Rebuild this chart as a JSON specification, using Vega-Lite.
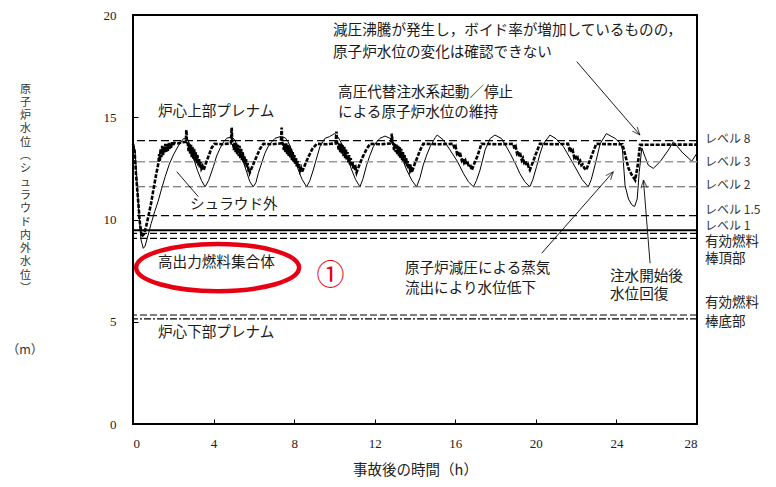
{
  "$schema": "https://vega.github.io/schema/vega-lite/v6.json",
  "width": 564,
  "height": 409,
  "autosize": {"type": "none"},
  "padding": {"left": 133, "top": 15, "right": 79, "bottom": 63},
  "background": "white",
  "config": {"view": {"stroke": "black", "strokeWidth": 2}, "font": "Noto Sans CJK JP"},
  "datasets": {
    "outside": [
      {"t":0,"v":13.7},{"t":0.1,"v":13.4},{"t":0.2,"v":11.8},{"t":0.3,"v":10.2},{"t":0.4,"v":9.0},{"t":0.51,"v":8.59},{"t":0.6,"v":8.7},{"t":0.74,"v":9.2},{"t":0.9,"v":9.8},{"t":1.08,"v":10.4},{"t":1.25,"v":10.9},{"t":1.42,"v":11.5},{"t":1.6,"v":12.1},{"t":1.8,"v":12.7},{"t":2.0,"v":13.15},{"t":2.25,"v":13.6},{"t":2.5,"v":13.95},{"t":2.7,"v":13.95},{"t":2.85,"v":13.6},{"t":3.0,"v":13.0},{"t":3.2,"v":12.4},{"t":3.4,"v":11.9},{"t":3.58,"v":11.6},{"t":3.75,"v":11.9},{"t":3.99,"v":12.58},{"t":4.15,"v":13.1},{"t":4.32,"v":13.48},{"t":4.5,"v":13.8},{"t":4.65,"v":13.97},{"t":4.9,"v":14.05},{"t":5.05,"v":13.9},{"t":5.31,"v":13.3},{"t":5.5,"v":12.75},{"t":5.65,"v":12.3},{"t":5.8,"v":11.85},{"t":5.97,"v":11.6},{"t":6.1,"v":11.8},{"t":6.22,"v":12.26},{"t":6.4,"v":12.8},{"t":6.55,"v":13.24},{"t":6.7,"v":13.55},{"t":6.89,"v":13.8},{"t":7.05,"v":13.97},{"t":7.3,"v":14.05},{"t":7.55,"v":14.0},{"t":7.7,"v":13.8},{"t":7.88,"v":13.4},{"t":8.05,"v":12.9},{"t":8.21,"v":12.42},{"t":8.4,"v":11.95},{"t":8.62,"v":11.6},{"t":8.78,"v":11.9},{"t":8.95,"v":12.42},{"t":9.1,"v":12.95},{"t":9.28,"v":13.56},{"t":9.53,"v":13.97},{"t":9.75,"v":14.05},{"t":10.0,"v":14.2},{"t":10.2,"v":14.0},{"t":10.44,"v":13.56},{"t":10.65,"v":13.0},{"t":10.86,"v":12.42},{"t":11.05,"v":11.95},{"t":11.27,"v":11.6},{"t":11.42,"v":12.0},{"t":11.6,"v":12.67},{"t":11.75,"v":13.1},{"t":11.93,"v":13.56},{"t":12.1,"v":13.8},{"t":12.26,"v":13.97},{"t":12.51,"v":14.08},{"t":12.8,"v":13.95},{"t":13.09,"v":13.56},{"t":13.35,"v":13.0},{"t":13.59,"v":12.42},{"t":13.85,"v":11.9},{"t":14.08,"v":11.6},{"t":14.25,"v":12.05},{"t":14.41,"v":12.67},{"t":14.58,"v":13.15},{"t":14.75,"v":13.56},{"t":15.0,"v":14.0},{"t":15.1,"v":14.13},{"t":15.4,"v":13.9},{"t":15.74,"v":13.4},{"t":16.1,"v":12.85},{"t":16.4,"v":12.26},{"t":16.65,"v":11.85},{"t":16.9,"v":11.6},{"t":17.05,"v":11.9},{"t":17.23,"v":12.42},{"t":17.48,"v":13.4},{"t":17.73,"v":13.96},{"t":17.97,"v":14.13},{"t":18.3,"v":13.96},{"t":18.72,"v":13.24},{"t":19.0,"v":12.7},{"t":19.2,"v":12.26},{"t":19.45,"v":11.85},{"t":19.7,"v":11.6},{"t":19.85,"v":11.95},{"t":20.04,"v":12.6},{"t":20.2,"v":13.2},{"t":20.37,"v":13.7},{"t":20.7,"v":14.13},{"t":21.0,"v":13.95},{"t":21.37,"v":13.56},{"t":21.7,"v":13.0},{"t":22.03,"v":12.42},{"t":22.3,"v":11.95},{"t":22.6,"v":11.6},{"t":22.75,"v":11.95},{"t":22.94,"v":12.67},{"t":23.19,"v":13.7},{"t":23.5,"v":14.2},{"t":23.93,"v":13.97},{"t":24.2,"v":13.72},{"t":24.3,"v":13.4},{"t":24.43,"v":11.65},{"t":24.6,"v":11.0},{"t":24.76,"v":10.72},{"t":24.9,"v":10.63},{"t":25.03,"v":11.0},{"t":25.13,"v":12.3},{"t":25.26,"v":13.5},{"t":25.42,"v":13.07},{"t":25.58,"v":12.66},{"t":25.83,"v":12.5},{"t":26.17,"v":12.83},{"t":26.58,"v":13.4},{"t":26.83,"v":13.8},{"t":27.25,"v":13.3},{"t":27.74,"v":12.85},{"t":28.0,"v":13.25}
    ],
    "inside": [
      {"t":0,"v":13.7},{"t":0.08,"v":13.3},{"t":0.15,"v":12.2},{"t":0.25,"v":11.0},{"t":0.33,"v":9.95},{"t":0.43,"v":9.16},{"t":0.55,"v":9.3},{"t":0.66,"v":9.7},{"t":0.76,"v":10.14},{"t":0.9,"v":10.8},{"t":1.01,"v":11.44},{"t":1.15,"v":12.2},{"t":1.26,"v":12.75},
      {"t":1.3,"v":13.2},{"t":1.33,"v":12.85},{"t":1.37,"v":13.45},{"t":1.41,"v":13.05},{"t":1.45,"v":13.6},{"t":1.49,"v":13.15},{"t":1.53,"v":13.55},{"t":1.57,"v":13.25},{"t":1.61,"v":13.7},{"t":1.65,"v":13.3},{"t":1.69,"v":13.68},{"t":1.73,"v":13.35},{"t":1.77,"v":13.75},{"t":1.81,"v":13.45},{"t":1.85,"v":13.72},{"t":1.89,"v":13.5},{"t":1.93,"v":13.78},{"t":1.97,"v":13.6},{"t":2.05,"v":13.75},{"t":2.25,"v":13.72},{"t":2.45,"v":13.78},{"t":2.62,"v":13.8},{"t":2.65,"v":14.38},{"t":2.68,"v":13.8},
      {"t":2.72,"v":13.7},{"t":2.76,"v":13.35},{"t":2.8,"v":13.7},{"t":2.84,"v":13.2},{"t":2.88,"v":13.65},{"t":2.92,"v":13.05},{"t":2.96,"v":13.55},{"t":3.0,"v":12.95},{"t":3.04,"v":13.45},{"t":3.08,"v":12.85},{"t":3.12,"v":13.3},{"t":3.16,"v":12.75},{"t":3.2,"v":13.15},{"t":3.24,"v":12.65},{"t":3.28,"v":12.95},{"t":3.32,"v":12.55},{"t":3.36,"v":12.8},{"t":3.4,"v":12.5},{"t":3.45,"v":12.6},{"t":3.5,"v":12.4},{"t":3.62,"v":12.75},{"t":3.75,"v":13.1},{"t":3.9,"v":13.5},{"t":4.05,"v":13.7},
      {"t":4.45,"v":13.68},{"t":4.86,"v":13.72},{"t":4.9,"v":14.5},{"t":4.93,"v":13.75},
      {"t":4.97,"v":13.7},{"t":5.01,"v":13.4},{"t":5.05,"v":13.75},{"t":5.09,"v":13.3},{"t":5.13,"v":13.72},{"t":5.17,"v":13.2},{"t":5.21,"v":13.65},{"t":5.25,"v":13.1},{"t":5.29,"v":13.6},{"t":5.33,"v":13.0},{"t":5.37,"v":13.45},{"t":5.41,"v":12.9},{"t":5.45,"v":13.3},{"t":5.49,"v":12.8},{"t":5.53,"v":13.1},{"t":5.57,"v":12.7},{"t":5.61,"v":12.95},{"t":5.65,"v":12.55},{"t":5.69,"v":12.75},{"t":5.73,"v":12.45},{"t":5.77,"v":12.5},{"t":5.8,"v":12.3},{"t":5.95,"v":12.65},{"t":6.1,"v":13.0},{"t":6.3,"v":13.45},{"t":6.47,"v":13.7},
      {"t":6.9,"v":13.68},{"t":7.34,"v":13.72},{"t":7.38,"v":14.5},{"t":7.41,"v":13.75},
      {"t":7.45,"v":13.7},{"t":7.49,"v":13.4},{"t":7.53,"v":13.75},{"t":7.57,"v":13.3},{"t":7.61,"v":13.72},{"t":7.65,"v":13.2},{"t":7.69,"v":13.65},{"t":7.73,"v":13.1},{"t":7.77,"v":13.6},{"t":7.81,"v":13.0},{"t":7.85,"v":13.45},{"t":7.89,"v":12.9},{"t":7.93,"v":13.3},{"t":7.97,"v":12.8},{"t":8.01,"v":13.15},{"t":8.05,"v":12.7},{"t":8.09,"v":13.0},{"t":8.13,"v":12.6},{"t":8.17,"v":12.85},{"t":8.21,"v":12.5},{"t":8.25,"v":12.7},{"t":8.3,"v":12.4},{"t":8.34,"v":12.5},{"t":8.38,"v":12.3},{"t":8.55,"v":12.7},{"t":8.7,"v":13.05},{"t":8.9,"v":13.45},{"t":9.12,"v":13.7},
      {"t":9.6,"v":13.68},{"t":10.06,"v":13.72},{"t":10.1,"v":14.3},{"t":10.13,"v":13.75},
      {"t":10.17,"v":13.7},{"t":10.21,"v":13.4},{"t":10.25,"v":13.72},{"t":10.29,"v":13.3},{"t":10.33,"v":13.7},{"t":10.37,"v":13.2},{"t":10.41,"v":13.62},{"t":10.45,"v":13.1},{"t":10.49,"v":13.55},{"t":10.53,"v":13.0},{"t":10.57,"v":13.45},{"t":10.61,"v":12.9},{"t":10.65,"v":13.3},{"t":10.69,"v":12.8},{"t":10.73,"v":13.15},{"t":10.77,"v":12.7},{"t":10.81,"v":13.0},{"t":10.85,"v":12.6},{"t":10.89,"v":12.85},{"t":10.93,"v":12.5},{"t":10.97,"v":12.7},{"t":11.02,"v":12.4},{"t":11.06,"v":12.5},{"t":11.1,"v":12.3},{"t":11.25,"v":12.7},{"t":11.4,"v":13.05},{"t":11.6,"v":13.45},{"t":11.77,"v":13.7},
      {"t":12.3,"v":13.68},{"t":12.81,"v":13.72},{"t":12.85,"v":14.2},{"t":12.88,"v":13.75},
      {"t":12.92,"v":13.7},{"t":12.96,"v":13.4},{"t":13.0,"v":13.72},{"t":13.04,"v":13.3},{"t":13.08,"v":13.7},{"t":13.12,"v":13.2},{"t":13.16,"v":13.6},{"t":13.2,"v":13.1},{"t":13.24,"v":13.55},{"t":13.28,"v":13.0},{"t":13.32,"v":13.45},{"t":13.36,"v":12.9},{"t":13.4,"v":13.3},{"t":13.44,"v":12.8},{"t":13.48,"v":13.15},{"t":13.52,"v":12.7},{"t":13.56,"v":13.0},{"t":13.6,"v":12.6},{"t":13.64,"v":12.85},{"t":13.68,"v":12.5},{"t":13.72,"v":12.7},{"t":13.76,"v":12.4},{"t":13.8,"v":12.5},{"t":13.84,"v":12.3},{"t":13.98,"v":12.7},{"t":14.12,"v":13.05},{"t":14.28,"v":13.45},{"t":14.41,"v":13.7},
      {"t":15.2,"v":13.68},{"t":15.9,"v":13.7},
      {"t":15.96,"v":13.45},{"t":16.02,"v":13.55},{"t":16.08,"v":13.25},{"t":16.14,"v":13.35},{"t":16.2,"v":13.05},{"t":16.26,"v":13.15},{"t":16.32,"v":12.9},{"t":16.38,"v":13.0},{"t":16.44,"v":12.78},{"t":16.5,"v":12.88},{"t":16.56,"v":12.68},{"t":16.62,"v":12.75},{"t":16.7,"v":12.55},{"t":16.76,"v":12.6},{"t":16.82,"v":12.42},{"t":16.95,"v":12.75},{"t":17.1,"v":13.1},{"t":17.3,"v":13.7},
      {"t":18.1,"v":13.68},{"t":18.88,"v":13.7},
      {"t":18.94,"v":13.45},{"t":19.0,"v":13.55},{"t":19.06,"v":13.25},{"t":19.12,"v":13.35},{"t":19.18,"v":13.05},{"t":19.24,"v":13.15},{"t":19.3,"v":12.9},{"t":19.36,"v":13.0},{"t":19.42,"v":12.78},{"t":19.48,"v":12.86},{"t":19.54,"v":12.65},{"t":19.6,"v":12.7},{"t":19.66,"v":12.5},{"t":19.7,"v":12.42},{"t":19.85,"v":12.8},{"t":20.0,"v":13.2},{"t":20.2,"v":13.7},
      {"t":20.9,"v":13.68},{"t":21.6,"v":13.7},
      {"t":21.66,"v":13.45},{"t":21.72,"v":13.55},{"t":21.78,"v":13.25},{"t":21.84,"v":13.35},{"t":21.9,"v":13.05},{"t":21.96,"v":13.15},{"t":22.02,"v":12.9},{"t":22.08,"v":13.0},{"t":22.14,"v":12.78},{"t":22.2,"v":12.86},{"t":22.26,"v":12.65},{"t":22.32,"v":12.7},{"t":22.4,"v":12.52},{"t":22.5,"v":12.42},{"t":22.65,"v":12.8},{"t":22.8,"v":13.2},{"t":23.0,"v":13.7},
      {"t":23.7,"v":13.68},{"t":24.3,"v":13.68},
      {"t":24.45,"v":13.1},{"t":24.6,"v":12.5},{"t":24.75,"v":12.2},{"t":24.93,"v":11.93},{"t":25.05,"v":12.6},{"t":25.12,"v":13.2},{"t":25.17,"v":13.65},{"t":26.5,"v":13.66},{"t":28,"v":13.66}
    ],
    "levels": [
      {"lvl":"L8","v":13.86},{"lvl":"L3","v":12.83},{"lvl":"L2","v":11.6},{"lvl":"L15","v":10.19},
      {"lvl":"L1","v":9.47},{"lvl":"TAF1","v":9.32},{"lvl":"TAF2","v":9.08},{"lvl":"BAF1","v":5.33},{"lvl":"BAF2","v":5.14}
    ],
    "arrows": [
      {"id":"a1","t":22.03,"v":17.72,"t2":25.17,"v2":14.13},
      {"id":"a2","t":20.29,"v":8.35,"t2":23.85,"v2":12.34},
      {"id":"a3","t":25.67,"v":7.86,"t2":25.34,"v2":11.93},
      {"id":"a4","t":2.17,"v":12.34,"t2":3.24,"v2":11.12}
    ],
    "notes": [
      {"grp":"note","t":1.24,"v":15.27,"label":"炉心上部プレナム"},
      {"grp":"note","t":10.18,"v":16.17,"label":"高圧代替注水系起動／停止"},
      {"grp":"note","t":10.18,"v":15.19,"label":"による原子炉水位の維持"},
      {"grp":"note","t":9.93,"v":19.2,"label":"減圧沸騰が発生し，ボイド率が増加しているものの，"},
      {"grp":"note","t":9.93,"v":18.15,"label":"原子炉水位の変化は確認できない"},
      {"grp":"note","t":2.83,"v":10.71,"label":"シュラウド外"},
      {"grp":"note","t":1.24,"v":7.86,"label":"高出力燃料集合体"},
      {"grp":"note","t":13.5,"v":7.58,"label":"原子炉減圧による蒸気"},
      {"grp":"note","t":13.5,"v":6.6,"label":"流出により水位低下"},
      {"grp":"note","t":23.68,"v":7.2,"label":"注水開始後"},
      {"grp":"note","t":23.68,"v":6.31,"label":"水位回復"},
      {"grp":"note","t":1.24,"v":4.45,"label":"炉心下部プレナム"},
      {"grp":"lvl","t":28.4,"v":13.96,"label":"レベル 8"},
      {"grp":"lvl","t":28.4,"v":12.82,"label":"レベル 3"},
      {"grp":"lvl","t":28.4,"v":11.68,"label":"レベル 2"},
      {"grp":"lvl","t":28.4,"v":10.46,"label":"レベル 1.5"},
      {"grp":"lvl","t":28.4,"v":9.68,"label":"レベル 1"},
      {"grp":"fuel","t":28.4,"v":8.92,"label":"有効燃料"},
      {"grp":"fuel","t":28.4,"v":8.08,"label":"棒頂部"},
      {"grp":"fuel","t":28.4,"v":5.9,"label":"有効燃料"},
      {"grp":"fuel","t":28.4,"v":5.0,"label":"棒底部"},
      {"grp":"unit","t":-5.36,"v":3.62,"label":"（m）"},
      {"grp":"red","t":9.81,"v":7.2,"label":"①"}
    ],
    "ellipse": [{"t":4.2,"v":7.65}]
  },
  "layer": [
    {
      "data": {"name": "outside"},
      "mark": {"type": "line", "color": "black", "strokeWidth": 1},
      "encoding": {
        "x": {"field": "t", "type": "quantitative", "scale": {"domain": [0, 28], "nice": false, "zero": false},
          "axis": {"title": "事故後の時間（h）", "values": [0,4,8,12,16,20,24,28], "grid": false, "domain": false,
            "tickSize": -5, "tickColor": "black", "labelPadding": 18, "labelFont": "Liberation Serif", "labelFontSize": 13, "labelColor": "#222",
            "titleFont": "Noto Sans CJK JP", "titleFontSize": 14.5, "titleFontWeight": "normal", "titleColor": "#222", "titleY": 46, "titleBaseline": "middle"}},
        "y": {"field": "v", "type": "quantitative", "scale": {"domain": [0, 20], "nice": false, "zero": false},
          "axis": {"title": ["原","子","炉","水","位","︵","シ","ュ","ラ","ウ","ド","内","外","水","位","︶"], "values": [0,5,10,15,20], "grid": false, "domain": false,
            "tickSize": -5, "tickColor": "black", "labelPadding": 22, "labelFont": "Liberation Serif", "labelFontSize": 13, "labelColor": "#222",
            "titleFont": "Noto Sans CJK JP", "titleFontSize": 11, "titleFontWeight": "normal", "titleColor": "#333", "titleAngle": 0,
            "titleAlign": "center", "titleBaseline": "top", "titleLineHeight": 13.3, "titleX": -108, "titleY": 68}}
      }
    },
    {
      "data": {"name": "levels"},
      "transform": [{"filter": "datum.lvl === 'L8' || datum.lvl === 'L15'"}],
      "mark": {"type": "rule", "color": "black", "strokeWidth": 1.3, "strokeDash": [8, 4]},
      "encoding": {"y": {"field": "v", "type": "quantitative", "scale": {"domain": [0, 20], "nice": false, "zero": false}}}
    },
    {
      "data": {"name": "levels"},
      "transform": [{"filter": "datum.lvl === 'L3'"}],
      "mark": {"type": "rule", "color": "#999999", "strokeWidth": 1.5, "strokeDash": [8, 4]},
      "encoding": {"y": {"field": "v", "type": "quantitative", "scale": {"domain": [0, 20], "nice": false, "zero": false}}}
    },
    {
      "data": {"name": "levels"},
      "transform": [{"filter": "datum.lvl === 'L2'"}],
      "mark": {"type": "rule", "color": "#555555", "strokeWidth": 1, "strokeDash": [8, 4]},
      "encoding": {"y": {"field": "v", "type": "quantitative", "scale": {"domain": [0, 20], "nice": false, "zero": false}}}
    },
    {
      "data": {"name": "levels"},
      "transform": [{"filter": "datum.lvl === 'L1'"}],
      "mark": {"type": "rule", "color": "black", "strokeWidth": 2},
      "encoding": {"y": {"field": "v", "type": "quantitative", "scale": {"domain": [0, 20], "nice": false, "zero": false}}}
    },
    {
      "data": {"name": "levels"},
      "transform": [{"filter": "datum.lvl === 'TAF1' || datum.lvl === 'TAF2' || datum.lvl === 'BAF1'"}],
      "mark": {"type": "rule", "color": "black", "strokeWidth": 1.2, "strokeDash": [7, 3]},
      "encoding": {"y": {"field": "v", "type": "quantitative", "scale": {"domain": [0, 20], "nice": false, "zero": false}}}
    },
    {
      "data": {"name": "levels"},
      "transform": [{"filter": "datum.lvl === 'BAF2'"}],
      "mark": {"type": "rule", "color": "black", "strokeWidth": 1.2, "strokeDash": [7, 2, 2, 2]},
      "encoding": {"y": {"field": "v", "type": "quantitative", "scale": {"domain": [0, 20], "nice": false, "zero": false}}}
    },
    {
      "data": {"name": "inside"},
      "mark": {"type": "line", "color": "black", "strokeWidth": 2.6, "strokeDash": [4, 1.5]},
      "encoding": {
        "x": {"field": "t", "type": "quantitative", "scale": {"domain": [0, 28], "nice": false, "zero": false}},
        "y": {"field": "v", "type": "quantitative", "scale": {"domain": [0, 20], "nice": false, "zero": false}}
      }
    },
    {
      "data": {"name": "arrows"},
      "mark": {"type": "rule", "color": "black", "strokeWidth": 0.9},
      "encoding": {
        "x": {"field": "t", "type": "quantitative", "scale": {"domain": [0, 28], "nice": false, "zero": false}},
        "y": {"field": "v", "type": "quantitative", "scale": {"domain": [0, 20], "nice": false, "zero": false}},
        "x2": {"field": "t2"},
        "y2": {"field": "v2"}
      }
    },
    {
      "data": {"name": "arrows"},
      "transform": [{"filter": "datum.id === 'a1'"}],
      "mark": {"type": "point", "shape": "M0,0L-0.4,1M0,0L0.4,1", "size": 256, "filled": false, "stroke": "black", "strokeWidth": 1, "angle": 139},
      "encoding": {
        "x": {"field": "t2", "type": "quantitative", "scale": {"domain": [0, 28], "nice": false, "zero": false}},
        "y": {"field": "v2", "type": "quantitative", "scale": {"domain": [0, 20], "nice": false, "zero": false}}
      }
    },
    {
      "data": {"name": "arrows"},
      "transform": [{"filter": "datum.id === 'a2'"}],
      "mark": {"type": "point", "shape": "M0,0L-0.4,1M0,0L0.4,1", "size": 256, "filled": false, "stroke": "black", "strokeWidth": 1, "angle": 41},
      "encoding": {
        "x": {"field": "t2", "type": "quantitative", "scale": {"domain": [0, 28], "nice": false, "zero": false}},
        "y": {"field": "v2", "type": "quantitative", "scale": {"domain": [0, 20], "nice": false, "zero": false}}
      }
    },
    {
      "data": {"name": "arrows"},
      "transform": [{"filter": "datum.id === 'a3'"}],
      "mark": {"type": "point", "shape": "M0,0L-0.4,1M0,0L0.4,1", "size": 256, "filled": false, "stroke": "black", "strokeWidth": 1, "angle": -5},
      "encoding": {
        "x": {"field": "t2", "type": "quantitative", "scale": {"domain": [0, 28], "nice": false, "zero": false}},
        "y": {"field": "v2", "type": "quantitative", "scale": {"domain": [0, 20], "nice": false, "zero": false}}
      }
    },
    {
      "data": {"name": "notes"},
      "transform": [{"filter": "datum.grp === 'note'"}],
      "mark": {"type": "text", "align": "left", "baseline": "middle", "font": "Noto Sans CJK JP", "fontSize": 14.6, "color": "#1a1a1a"},
      "encoding": {
        "x": {"field": "t", "type": "quantitative", "scale": {"domain": [0, 28], "nice": false, "zero": false}},
        "y": {"field": "v", "type": "quantitative", "scale": {"domain": [0, 20], "nice": false, "zero": false}},
        "text": {"field": "label"}
      }
    },
    {
      "data": {"name": "notes"},
      "transform": [{"filter": "datum.grp === 'lvl'"}],
      "mark": {"type": "text", "align": "left", "baseline": "middle", "font": "Noto Sans CJK JP", "fontSize": 12, "color": "#333"},
      "encoding": {
        "x": {"field": "t", "type": "quantitative", "scale": {"domain": [0, 28], "nice": false, "zero": false}},
        "y": {"field": "v", "type": "quantitative", "scale": {"domain": [0, 20], "nice": false, "zero": false}},
        "text": {"field": "label"}
      }
    },
    {
      "data": {"name": "notes"},
      "transform": [{"filter": "datum.grp === 'fuel'"}],
      "mark": {"type": "text", "align": "left", "baseline": "middle", "font": "Noto Sans CJK JP", "fontSize": 13.5, "color": "#222"},
      "encoding": {
        "x": {"field": "t", "type": "quantitative", "scale": {"domain": [0, 28], "nice": false, "zero": false}},
        "y": {"field": "v", "type": "quantitative", "scale": {"domain": [0, 20], "nice": false, "zero": false}},
        "text": {"field": "label"}
      }
    },
    {
      "data": {"name": "notes"},
      "transform": [{"filter": "datum.grp === 'unit'"}],
      "mark": {"type": "text", "align": "center", "baseline": "middle", "font": "Noto Sans CJK JP", "fontSize": 12.5, "color": "#333"},
      "encoding": {
        "x": {"field": "t", "type": "quantitative", "scale": {"domain": [0, 28], "nice": false, "zero": false}},
        "y": {"field": "v", "type": "quantitative", "scale": {"domain": [0, 20], "nice": false, "zero": false}},
        "text": {"field": "label"}
      }
    },
    {
      "data": {"name": "notes"},
      "transform": [{"filter": "datum.grp === 'red'"}],
      "mark": {"type": "text", "align": "center", "baseline": "middle", "font": "Noto Sans CJK JP", "fontSize": 28, "color": "#e60012"},
      "encoding": {
        "x": {"field": "t", "type": "quantitative", "scale": {"domain": [0, 28], "nice": false, "zero": false}},
        "y": {"field": "v", "type": "quantitative", "scale": {"domain": [0, 20], "nice": false, "zero": false}},
        "text": {"field": "label"}
      }
    },
    {
      "data": {"name": "ellipse"},
      "mark": {"type": "point", "shape": "M-1,0A1,0.29,0,1,0,1,0A1,0.29,0,1,0,-1,0", "size": 26569, "filled": false, "stroke": "#e60012", "strokeWidth": 4.5, "opacity": 1},
      "encoding": {
        "x": {"field": "t", "type": "quantitative", "scale": {"domain": [0, 28], "nice": false, "zero": false}},
        "y": {"field": "v", "type": "quantitative", "scale": {"domain": [0, 20], "nice": false, "zero": false}}
      }
    }
  ]
}
